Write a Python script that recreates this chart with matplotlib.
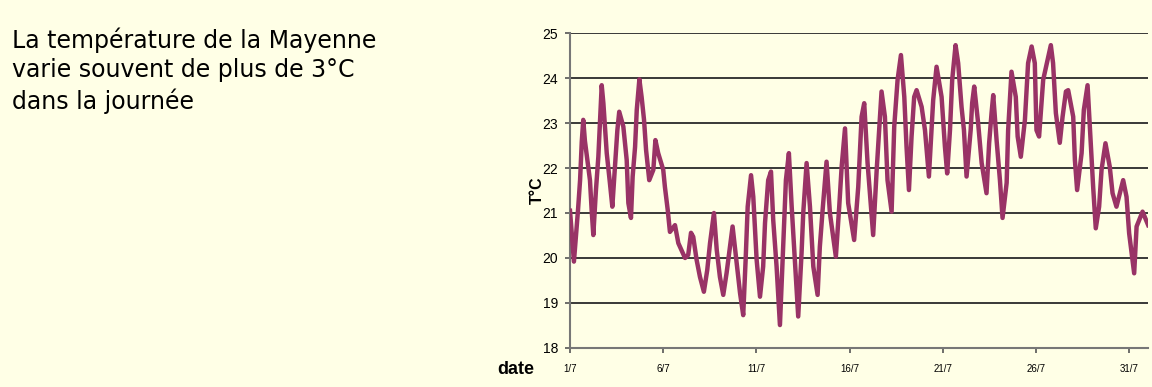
import matplotlib.pyplot as plt

# days of July (fractional) and water temperature in °C
days = [1.00, 1.21, 1.43, 1.54, 1.63, 1.71, 1.80, 2.07, 2.16, 2.25, 2.39, 2.52, 2.61, 2.70, 2.79,
        2.97, 3.14, 3.27, 3.41, 3.54, 3.64, 3.86, 4.04, 4.13, 4.27, 4.36, 4.49, 4.58, 4.72, 4.84,
        4.97, 5.08, 5.25, 5.47, 5.58, 5.73, 6.00, 6.09, 6.24, 6.36, 6.63, 6.81, 7.17, 7.34, 7.49,
        7.61, 7.79, 7.97, 8.18, 8.36, 8.51, 8.72, 8.87, 9.04, 9.22, 9.40, 9.58, 9.72, 9.94, 10.12,
        10.29, 10.42, 10.53, 10.71, 10.83, 11.01, 11.19, 11.36, 11.46, 11.63, 11.78, 11.90, 12.08,
        12.26, 12.44, 12.58, 12.74, 12.89, 13.06, 13.24, 13.42, 13.51, 13.69, 13.87, 14.05, 14.28,
        14.40, 14.55, 14.76, 14.94, 15.26, 15.44, 15.57, 15.75, 15.92, 16.24, 16.46, 16.64, 16.78,
        16.96, 17.26, 17.45, 17.58, 17.71, 17.89, 18.03, 18.25, 18.39, 18.57, 18.75, 18.93, 19.05,
        19.18, 19.32, 19.46, 19.59, 19.86, 20.04, 20.25, 20.48, 20.66, 20.93, 21.11, 21.23, 21.38,
        21.50, 21.68, 21.82, 22.00, 22.13, 22.27, 22.49, 22.57, 22.68, 22.89, 23.08, 23.34, 23.48,
        23.61, 23.70, 23.88, 24.06, 24.20, 24.42, 24.50, 24.68, 24.91, 25.01, 25.18, 25.40, 25.57,
        25.76, 25.93, 26.02, 26.16, 26.38, 26.79, 26.91, 27.06, 27.27, 27.42, 27.60, 27.72, 27.99,
        28.08, 28.20, 28.44, 28.56, 28.76, 28.88, 29.06, 29.20, 29.38, 29.51, 29.72, 29.95, 30.10,
        30.31, 30.49, 30.67, 30.85, 30.99, 31.26, 31.39, 31.71, 32.01]
temps = [21.05, 19.92, 21.07, 21.73, 22.58, 23.07, 22.60, 21.73, 21.07, 20.51, 21.50, 22.25, 23.07, 23.84, 23.44,
         22.33, 21.67, 21.14, 22.03, 22.84, 23.25, 22.92, 22.18, 21.22, 20.89, 21.81, 22.47, 23.29, 23.97, 23.58,
         23.07, 22.40, 21.73, 21.96, 22.62, 22.33, 21.96, 21.58, 21.07, 20.58, 20.73, 20.33, 20.00, 20.07, 20.56,
         20.47, 19.96, 19.58, 19.25, 19.73, 20.33, 21.00, 20.18, 19.58, 19.18, 19.67, 20.25, 20.70, 19.89, 19.22,
         18.73, 19.96, 21.14, 21.84, 21.36, 19.96, 19.14, 19.81, 20.78, 21.73, 21.92, 20.84, 19.81,
         18.51, 20.33, 21.73, 22.33, 21.14, 19.96, 18.70, 20.11, 21.00, 22.11, 21.14, 19.81, 19.18,
         20.25, 21.07, 22.14, 21.00, 20.03, 21.14, 22.03, 22.88, 21.22, 20.40, 21.58, 23.14, 23.44,
         22.11, 20.51, 21.96, 22.84, 23.70, 23.14, 21.73, 21.03, 22.92, 23.96, 24.51, 23.58, 22.47,
         21.51, 22.70, 23.58, 23.73, 23.36, 22.84, 21.81, 23.51, 24.25, 23.58, 22.47, 21.88, 22.84,
         23.96, 24.73, 24.33, 23.36, 22.84, 21.81, 22.84, 23.44, 23.81, 23.00, 22.11, 21.44, 22.55,
         23.22, 23.62, 22.62, 21.73, 20.89, 21.67, 22.84, 24.14, 23.58, 22.70, 22.25, 23.07, 24.33,
         24.70, 24.33, 22.84, 22.70, 23.96, 24.73, 24.33, 23.22, 22.56, 23.14, 23.70, 23.73, 23.14,
         22.18, 21.51, 22.33, 23.29, 23.84, 22.92, 21.58, 20.66, 21.14, 21.96, 22.55, 22.03, 21.44,
         21.14, 21.44, 21.73, 21.36, 20.55, 19.66, 20.70, 21.03, 20.73]

tick_days = [1, 6, 11, 16, 21, 26, 31]
tick_labels = ["1/7", "6/7", "11/7", "16/7", "21/7", "26/7", "31/7"]
y_ticks = [18, 19, 20, 21, 22, 23, 24, 25]

bg = "#FFFFE6"
fig = plt.figure(figsize=(11.52, 3.87), dpi=100, facecolor=bg)
ax = fig.add_axes([0.4948, 0.1008, 0.5017, 0.8139])
ax.set_facecolor(bg)

for y in y_ticks:
    ax.axhline(y, color="#2a2a2a", lw=1.3, zorder=1)

ax.plot(days, temps, color="#993366", lw=3.2, solid_joinstyle="round", zorder=3)

ax.set_xlim(1, 32.0)
ax.set_ylim(18, 25)
ax.set_yticks(y_ticks)
ax.set_xticks(tick_days)
ax.set_xticklabels(tick_labels, fontsize=7, family="Liberation Sans")
ax.set_yticklabels([str(y) for y in y_ticks], fontsize=10, family="Liberation Sans")
ax.tick_params(axis="both", direction="out", length=3.5, width=1.2, color="#555555")
ax.tick_params(axis="y", pad=5)
ax.tick_params(axis="x", pad=8)

for side in ["top", "right"]:
    ax.spines[side].set_visible(False)
for side in ["left", "bottom"]:
    ax.spines[side].set_color("#777777")
    ax.spines[side].set_linewidth(1.5)

fig.text(0.4665, 0.509, "T°C", rotation=90, fontsize=11.5, fontweight="bold",
         family="Liberation Sans", ha="center", va="center")
fig.text(0.4475, 0.045, "date", fontsize=13, fontweight="bold",
         family="Liberation Sans", ha="center", va="center")

fig.text(0.010, 0.930, "La température de la Mayenne\nvarie souvent de plus de 3°C\ndans la journée",
         fontsize=17, family="DejaVu Sans", ha="left", va="top", linespacing=1.3, color="#000000")

plt.savefig("out.png", dpi=100, facecolor=bg)
